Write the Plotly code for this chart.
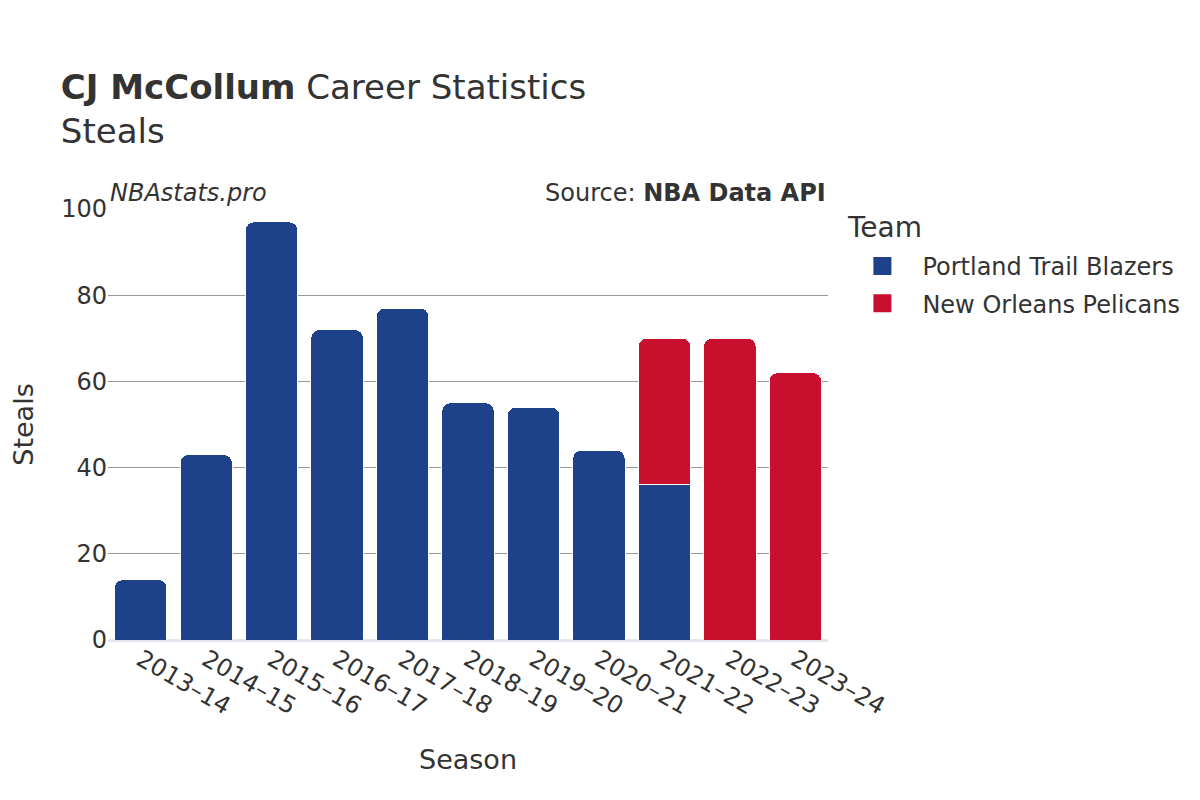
import plotly.graph_objects as go

seasons = ["2013–14", "2014–15", "2015–16", "2016–17", "2017–18", "2018–19",
           "2019–20", "2020–21", "2021–22", "2022–23", "2023–24"]

por_seasons = ["2013–14", "2014–15", "2015–16", "2016–17", "2017–18", "2018–19",
               "2019–20", "2020–21", "2021–22"]
por_steals = [14, 43, 97, 72, 77, 55, 54, 44, 36]

nop_seasons = ["2021–22", "2022–23", "2023–24"]
nop_steals = [34, 70, 62]

y_ticks = [0, 20, 40, 60, 80, 100]

font = "DejaVu Sans"
por_color = "#1d428a"
nop_color = "#c8102e"

fig = go.Figure()
fig.add_trace(go.Bar(x=por_seasons, y=por_steals, name="Portland Trail Blazers",
                     showlegend=False,
                     marker=dict(color=por_color, line=dict(color="white", width=1))))
fig.add_trace(go.Bar(x=nop_seasons, y=nop_steals, name="New Orleans Pelicans",
                     showlegend=False,
                     marker=dict(color=nop_color, line=dict(color="white", width=1))))

# legend-only entries with bigger swatches
for name, color in [("Portland Trail Blazers", por_color), ("New Orleans Pelicans", nop_color)]:
    fig.add_trace(go.Scatter(x=[None], y=[None], mode="markers", name=name,
                             legendgroup=name,
                             marker=dict(symbol="square", size=20, color=color,
                                         line=dict(color=color, width=2))))

fig.update_layout(
    width=1200, height=800,
    barmode="stack",
    bargap=0.2,
    barcornerradius=8,
    plot_bgcolor="white",
    paper_bgcolor="white",
    font=dict(family=font, color="#333333", size=20),
    title=dict(
        text="<b>CJ McCollum</b> Career Statistics<br>Steals",
        x=0.044, xanchor="left", y=0.886, yanchor="top",
        font=dict(size=34, color="#333333"),
    ),
    margin=dict(l=100, r=380, t=201, b=168),
    xaxis=dict(
        title=dict(text="Season", font=dict(size=27), standoff=30),
        categoryorder="array", categoryarray=seasons,
        tickangle=30,
        tickfont=dict(size=24),
        showline=False,
    ),
    yaxis=dict(
        title=dict(text="Steals", font=dict(size=27), standoff=28),
        automargin=False,
        range=[0, 100],
        tickvals=y_ticks,
        tickfont=dict(size=24),
        gridcolor="#999999",
        gridwidth=1,
        zeroline=True, zerolinecolor="#e5e5ee", zerolinewidth=3,
    ),
    legend=dict(
        x=1.02, xanchor="left", y=0.919, yanchor="top",
        font=dict(size=24),
        traceorder="grouped",
        tracegroupgap=3,
        itemwidth=70,
    ),
    annotations=[
        dict(text="<i>NBAstats.pro</i>", xref="paper", yref="paper", x=0, y=1.0,
             xanchor="left", yanchor="bottom", showarrow=False, font=dict(size=24)),
        dict(text="Source: <b>NBA Data API</b>", xref="paper", yref="paper", x=1, y=1.0,
             xanchor="right", yanchor="bottom", showarrow=False, font=dict(size=24)),
        dict(text="Team", xref="paper", yref="paper", x=1.0236, y=0.958,
             xanchor="left", yanchor="middle", showarrow=False, font=dict(size=28)),
    ],
)

fig.write_html("out.html")
